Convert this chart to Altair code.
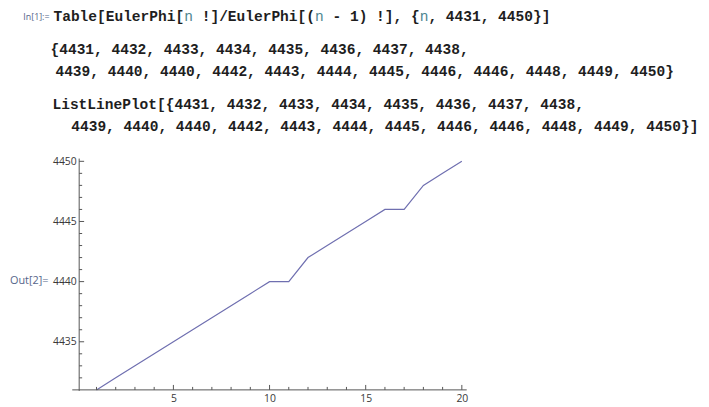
import altair as alt
import pandas as pd

# ---- data ----
n_values = list(range(1, 21))
phi_ratio = [4431, 4432, 4433, 4434, 4435, 4436, 4437, 4438,
             4439, 4440, 4440, 4442, 4443, 4444, 4445, 4446, 4446, 4448, 4449, 4450]
x_major = [5, 10, 15, 20]
x_minor = [v for v in range(1, 21) if v % 5 != 0]
y_major = [4435, 4440, 4445, 4450]
y_minor = [v for v in range(4432, 4451) if v % 5 != 0]

input_code = "Table[EulerPhi[n !]/EulerPhi[(n - 1) !], {n, 4431, 4450}]"
in_label = "In[1]:="
out_label = "Out[2]="

first = ", ".join(str(v) for v in phi_ratio[:8]) + ","
rest = ", ".join(str(v) for v in phi_ratio[8:])
out_line1 = "{" + first
out_line2 = rest + "}"
plot_line1 = "ListLinePlot[{" + first
plot_line2 = rest + "}]"

df = pd.DataFrame({"n": n_values, "v": phi_ratio})
one = pd.DataFrame({"k": [0]})

# ---- layout (plot-area origin at page 80,158) ----
W, H = 390, 234
MONO = "Liberation Mono"
FS = 14.7
CW = 0.6 * FS
INK = "#1e1e1e"
LABEL = "#56658a"
TEAL = "#4d8590"
AXIS = "#555555"
NB = "\u00a0"

xscale = alt.Scale(domain=[0.1, 20.15], nice=False, zero=False)
yscale = alt.Scale(domain=[4431, 4450.23], nice=False, zero=False)

lab_style = dict(domain=False, grid=False, ticks=False, title=None, format="d",
                 labelFont="Open Sans", labelFontSize=10.5, labelColor="#3a3a3a")
x_axis = alt.Axis(values=x_major, orient="bottom", labelPadding=4, **lab_style)
y_axis = alt.Axis(values=y_major, orient="left", labelPadding=3, **lab_style)

line = alt.Chart(df).mark_line(color="#6f6fb0", strokeWidth=1.2).encode(
    x=alt.X("n:Q", scale=xscale, axis=x_axis),
    y=alt.Y("v:Q", scale=yscale, axis=y_axis),
)

# tick marks (Mathematica style: pointing inward)
xt_major = alt.Chart(pd.DataFrame({"t": x_major})).mark_rule(color=AXIS, strokeWidth=1).encode(
    x=alt.X("t:Q", scale=xscale, axis=x_axis), y=alt.value(H), y2=alt.value(H - 5))
xt_minor = alt.Chart(pd.DataFrame({"t": x_minor})).mark_rule(color=AXIS, strokeWidth=1).encode(
    x=alt.X("t:Q", scale=xscale, axis=x_axis), y=alt.value(H), y2=alt.value(H - 3))
yt_major = alt.Chart(pd.DataFrame({"t": y_major})).mark_rule(color=AXIS, strokeWidth=1).encode(
    y=alt.Y("t:Q", scale=yscale, axis=y_axis), x=alt.value(0), x2=alt.value(5))
yt_minor = alt.Chart(pd.DataFrame({"t": y_minor})).mark_rule(color=AXIS, strokeWidth=1).encode(
    y=alt.Y("t:Q", scale=yscale, axis=y_axis), x=alt.value(0), x2=alt.value(3))

x_axis_line = alt.Chart(one).mark_rule(color=AXIS, strokeWidth=1).encode(
    x=alt.value(-7), x2=alt.value(W + 2), y=alt.value(H))
y_axis_line = alt.Chart(one).mark_rule(color=AXIS, strokeWidth=1).encode(
    x=alt.value(0), y=alt.value(0), y2=alt.value(H + 1))


def txt(s, x, y, color=INK, size=FS, font=MONO, weight="bold", align="left"):
    return alt.Chart(one).mark_text(text=s.replace(" ", NB), font=font, fontSize=size,
                                    fontWeight=weight, color=color, align=align,
                                    baseline="middle").encode(
        x=alt.value(x), y=alt.value(y))


# input line: split at the variable "n" so it can be coloured like Mathematica
x0_in = -26
texts = [txt(in_label, -30, -143, color=LABEL, size=9, font="Open Sans", weight="normal", align="right")]
start = 0
for i, ch in enumerate(input_code + "\u0000"):
    if ch in ("n", "\u0000"):
        seg = input_code[start:i]
        lead = len(seg) - len(seg.lstrip(" "))
        seg = seg.strip(" ")
        if seg:
            texts.append(txt(seg, x0_in + (start + lead) * CW, -143))
        if ch == "n":
            texts.append(txt("n", x0_in + i * CW, -143, color=TEAL, weight="normal"))
        start = i + 1

texts += [
    txt(out_line1, -29, -110),
    txt(out_line2, -24, -88),
    txt(plot_line1, -27, -54),
    txt(plot_line2, -8, -32),
    txt(out_label, -31, 124, color=LABEL, size=11, font="Open Sans", weight="normal", align="right"),
]

chart = alt.layer(line, xt_major, xt_minor, yt_major, yt_minor,
                  x_axis_line, y_axis_line, *texts).properties(
    width=W, height=H,
    autosize=alt.AutoSizeParams(type="none"),
    padding={"left": 72, "top": 150, "right": 701 - 72 - W, "bottom": 14},
    background="white",
).configure_view(stroke="transparent")

chart.save("out.html", embed_options={"renderer": "svg", "actions": False})
